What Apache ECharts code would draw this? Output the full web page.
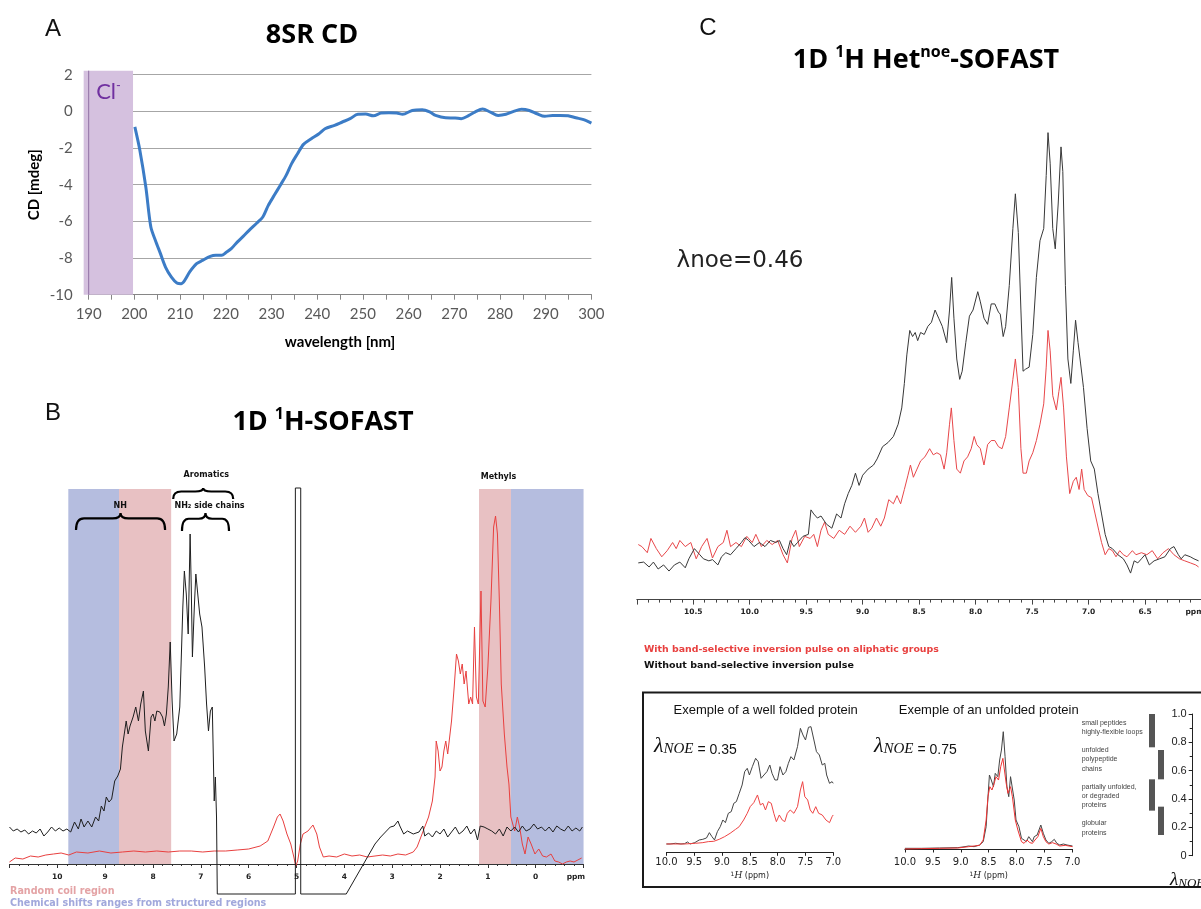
<!DOCTYPE html>
<html><head><meta charset="utf-8">
<script src="https://cdn.jsdelivr.net/npm/echarts@6/dist/echarts.min.js"></script>
<style>html,body{margin:0;padding:0;background:#fff}#c{width:1201px;height:909px}</style>
</head><body><div id="c"></div>
<script>
// ---------- Panel A: CD spectrum ----------
const cdCurve = [[200.1,-0.85],[201.2,-2.13],[202.5,-4.13],[203.6,-6.31],[204.6,-7.04],[205.7,-7.76],[206.8,-8.49],[208.1,-9.04],[209.3,-9.36],[210.2,-9.4],[211.0,-9.22],[212.1,-8.76],[213.6,-8.31],[214.9,-8.13],[216.6,-7.91],[217.8,-7.85],[219.1,-7.85],[220.0,-7.71],[221.2,-7.49],[222.5,-7.13],[223.8,-6.82],[225.1,-6.49],[226.8,-6.09],[228.1,-5.76],[229.3,-5.13],[230.6,-4.58],[231.9,-4.04],[233.2,-3.49],[234.4,-2.85],[235.7,-2.31],[237.0,-1.8],[238.7,-1.49],[240.4,-1.22],[241.7,-0.95],[243.8,-0.76],[245.5,-0.58],[247.2,-0.4],[248.9,-0.16],[250.6,-0.15],[252.3,-0.24],[254.0,-0.09],[255.7,-0.07],[257.4,-0.09],[258.7,-0.16],[260.8,0.05],[263.0,0.09],[264.7,-0.04],[265.9,-0.22],[268.1,-0.35],[270.2,-0.36],[271.5,-0.4],[273.2,-0.22],[274.5,-0.04],[276.2,0.13],[277.9,-0.04],[279.6,-0.22],[281.3,-0.16],[283.0,0],[284.7,0.11],[286.4,0.05],[288.1,-0.13],[289.8,-0.27],[291.5,-0.22],[293.2,-0.22],[294.9,-0.24],[296.6,-0.35],[298.3,-0.45],[300.0,-0.64]];
const clBand = [[188.9,199.7,-10,2.22,190]]; // wavelength range, CD range, axis wavelength

// ---------- Panel B: 1D 1H-SOFAST ----------
const bBlack = [[11.0,37],[10.92,33],[10.84,35],[10.76,32],[10.68,34],[10.6,30],[10.52,33],[10.44,31],[10.36,35],[10.28,28],[10.2,32],[10.12,37],[10.04,33],[9.96,36],[9.88,33],[9.8,35],[9.72,32],[9.64,42],[9.56,35],[9.504,45],[9.44,37],[9.36,43],[9.28,37],[9.2,47],[9.136,43],[9.08,58],[9.024,53],[8.976,67],[8.92,62],[8.864,65],[8.8,83],[8.736,88],[8.68,95],[8.64,117],[8.6,130],[8.56,143],[8.52,130],[8.48,138],[8.416,147],[8.36,157],[8.304,143],[8.256,160],[8.2,173],[8.16,133],[8.096,113],[8.04,147],[8.0,150],[7.96,143],[7.92,153],[7.856,152],[7.8,147],[7.76,138],[7.72,150],[7.68,177],[7.64,222],[7.6,163],[7.56,123],[7.504,130],[7.44,157],[7.376,257],[7.344,293],[7.304,270],[7.264,230],[7.224,330],[7.2,277],[7.176,207],[7.136,257],[7.104,290],[7.064,270],[7.024,250],[6.976,237],[6.92,197],[6.88,160],[6.84,133],[6.8,153],[6.76,157],[6.72,63],[6.696,87],[6.672,47],[6.656,-30],[5.024,-30],[5.024,376],[4.912,376],[4.912,-30],[3.96,-30],[3.84,-20],[3.72,-10],[3.6,0],[3.48,10],[3.36,20],[3.24,27],[3.12,33],[3.04,37],[2.96,38],[2.88,43],[2.84,38],[2.76,30],[2.68,33],[2.56,30],[2.44,32],[2.36,38],[2.32,28],[2.24,31],[2.16,27],[2.08,33],[2.0,30],[1.92,35],[1.84,27],[1.76,32],[1.68,37],[1.6,30],[1.52,33],[1.44,38],[1.36,30],[1.28,35],[1.216,24],[1.16,38],[1.08,37],[1.0,35],[0.92,33],[0.84,30],[0.76,35],[0.68,28],[0.6,37],[0.52,33],[0.44,37],[0.36,32],[0.28,38],[0.2,33],[0.12,35],[0.04,40],[-0.04,35],[-0.12,37],[-0.2,33],[-0.28,37],[-0.36,32],[-0.44,38],[-0.52,35],[-0.6,33],[-0.68,38],[-0.76,33],[-0.84,36],[-0.92,33],[-0.976,37]];
const bRed = [[11.0,2],[10.88,6],[10.72,5],[10.56,8],[10.4,7],[10.24,9],[10.08,10],[9.92,11],[9.76,9],[9.6,12],[9.36,11],[9.12,13],[8.88,11],[8.64,12],[8.4,13],[8.16,12],[7.92,13],[7.68,12],[7.44,13],[7.2,13],[6.96,12],[6.72,13],[6.48,13],[6.24,14],[6.0,15],[5.76,18],[5.6,23],[5.48,37],[5.4,47],[5.344,50],[5.28,43],[5.2,30],[5.12,20],[5.056,7],[5.016,-2],[4.976,3],[4.92,20],[4.864,30],[4.76,33],[4.656,39],[4.576,30],[4.52,17],[4.44,7],[4.32,8],[4.16,7],[4.0,10],[3.84,8],[3.68,9],[3.52,7],[3.36,8],[3.2,9],[3.04,8],[2.88,10],[2.72,9],[2.56,12],[2.48,17],[2.4,27],[2.32,37],[2.24,47],[2.16,63],[2.104,87],[2.08,123],[2.04,113],[2.0,93],[1.96,97],[1.92,113],[1.88,123],[1.84,110],[1.76,143],[1.704,177],[1.656,210],[1.616,203],[1.576,190],[1.536,200],[1.496,180],[1.456,193],[1.4,160],[1.36,167],[1.32,160],[1.28,237],[1.24,167],[1.2,160],[1.144,273],[1.104,163],[1.056,157],[1.0,197],[0.936,263],[0.88,337],[0.84,348],[0.8,330],[0.76,263],[0.72,180],[0.656,130],[0.6,97],[0.56,80],[0.52,47],[0.44,33],[0.384,47],[0.336,37],[0.28,20],[0.224,10],[0.16,27],[0.096,20],[0.016,10],[-0.064,15],[-0.144,8],[-0.224,7],[-0.32,10],[-0.4,3],[-0.48,2],[-0.56,0],[-0.64,2],[-0.72,3],[-0.8,2],[-0.88,4],[-0.96,6]];
const bBands = [[9.77,8.71,0],[8.71,7.62,1],[1.185,0.517,1],[0.517,-1.0,0]]; // ppm from, ppm to, kind (0 structured, 1 random coil)
const bBandTop = 375;
const bBraces = [[7.578,6.323,376,365],[9.609,7.747,351,334],[7.394,6.411,351,333]]; // ppm from, ppm to, tip, ends
const bLabelPos = [[6.885,389],[8.683,358],[6.818,358],[0.778,387]];
const bLabelText = ['Aromatics','NH','NH\u2082 side chains','Methyls'];
const bTickLabels = [10,9,8,7,6,5,4,3,2,1,0,-0.84];

// ---------- Panel C: Het-noe SOFAST ----------
const cBlack = [[10.987,9.0],[10.939,9.2],[10.891,8.0],[10.853,9.2],[10.811,7.5],[10.763,8.5],[10.715,7.0],[10.667,8.5],[10.619,9.2],[10.571,7.8],[10.539,10.0],[10.490,12.5],[10.442,11.0],[10.410,10.0],[10.362,9.5],[10.330,9.8],[10.282,8.5],[10.250,10.5],[10.212,11.5],[10.170,11.0],[10.122,12.5],[10.074,14.0],[10.042,15.2],[10.010,14.5],[9.962,13.0],[9.914,14.0],[9.865,13.0],[9.817,14.5],[9.769,14.0],[9.737,14.5],[9.705,12.5],[9.673,11.0],[9.641,14.5],[9.609,13.0],[9.577,14.0],[9.529,15.5],[9.481,16.0],[9.458,22.0],[9.433,21.0],[9.401,20.0],[9.369,20.5],[9.321,18.5],[9.273,17.5],[9.231,21.0],[9.192,20.0],[9.160,23.5],[9.128,26.0],[9.096,28.0],[9.064,31.0],[9.032,28.0],[9.000,30.5],[8.952,32.0],[8.904,33.0],[8.872,34.5],[8.824,37.5],[8.776,38.5],[8.728,40.0],[8.686,43.0],[8.654,47.0],[8.631,53.0],[8.609,60.0],[8.583,66.0],[8.558,64.5],[8.535,65.5],[8.513,63.5],[8.487,65.5],[8.455,65.0],[8.423,67.0],[8.391,68.0],[8.359,71.0],[8.327,69.0],[8.295,67.0],[8.256,63.0],[8.231,71.0],[8.212,79.0],[8.192,69.0],[8.167,59.0],[8.141,54.0],[8.119,56.0],[8.087,63.0],[8.055,69.5],[8.023,71.0],[7.981,75.5],[7.958,73.0],[7.926,69.0],[7.894,67.5],[7.862,72.5],[7.830,72.5],[7.798,70.5],[7.782,70.0],[7.756,64.5],[7.734,67.0],[7.702,77.0],[7.670,91.0],[7.648,99.5],[7.622,90.0],[7.599,71.0],[7.580,56.0],[7.558,56.5],[7.526,57.0],[7.494,65.0],[7.462,79.0],[7.430,88.0],[7.397,91.0],[7.375,104.0],[7.359,114.5],[7.340,107.0],[7.317,91.0],[7.295,86.0],[7.269,97.0],[7.244,111.0],[7.228,105.0],[7.205,77.0],[7.183,59.0],[7.157,53.0],[7.135,61.0],[7.115,68.5],[7.093,63.0],[7.071,58.0],[7.045,52.0],[7.013,42.0],[6.981,34.0],[6.949,32.0],[6.917,26.0],[6.885,21.0],[6.853,16.0],[6.821,13.0],[6.789,12.5],[6.740,11.0],[6.692,10.0],[6.660,8.5],[6.628,6.5],[6.596,9.5],[6.564,9.0],[6.532,10.0],[6.500,11.0],[6.462,8.5],[6.420,9.5],[6.372,10.0],[6.324,10.5],[6.276,12.5],[6.244,13.0],[6.205,11.0],[6.180,10.0],[6.148,11.0],[6.099,10.5],[6.067,10.0],[6.026,9.5]];
const cRed = [[10.987,13.5],[10.955,13.0],[10.907,11.5],[10.875,15.0],[10.827,12.5],[10.779,10.5],[10.731,12.0],[10.683,14.0],[10.651,12.5],[10.619,14.5],[10.571,13.0],[10.522,14.0],[10.474,10.0],[10.426,13.0],[10.378,15.0],[10.330,10.2],[10.282,13.0],[10.234,14.0],[10.202,17.0],[10.170,13.0],[10.122,14.0],[10.074,13.0],[10.026,15.5],[9.978,14.0],[9.946,16.0],[9.897,13.0],[9.849,14.5],[9.801,13.5],[9.753,14.5],[9.705,11.0],[9.667,9.0],[9.625,15.0],[9.593,17.0],[9.561,13.0],[9.513,15.5],[9.465,15.0],[9.433,16.0],[9.401,13.0],[9.369,17.0],[9.337,19.0],[9.305,16.0],[9.256,15.0],[9.208,17.0],[9.160,16.0],[9.112,18.0],[9.064,16.5],[9.016,18.0],[8.984,20.0],[8.952,16.5],[8.920,17.5],[8.878,20.0],[8.840,18.0],[8.808,20.0],[8.769,24.5],[8.728,23.5],[8.696,25.5],[8.664,23.5],[8.631,27.0],[8.599,30.5],[8.577,33.0],[8.551,30.0],[8.519,32.0],[8.487,34.0],[8.449,35.0],[8.407,37.0],[8.375,35.5],[8.343,36.0],[8.311,35.5],[8.279,32.0],[8.256,36.0],[8.231,43.0],[8.215,47.0],[8.192,39.0],[8.167,32.0],[8.135,31.0],[8.103,34.0],[8.071,35.0],[8.039,37.0],[8.013,40.0],[7.990,38.0],[7.958,37.0],[7.926,33.0],[7.894,38.0],[7.862,39.0],[7.830,39.0],[7.798,37.5],[7.766,37.0],[7.734,40.0],[7.702,47.0],[7.670,54.0],[7.648,59.0],[7.622,52.0],[7.599,37.0],[7.580,31.0],[7.551,31.0],[7.526,34.0],[7.494,36.0],[7.462,39.0],[7.430,43.0],[7.397,48.0],[7.375,57.0],[7.359,66.0],[7.340,61.0],[7.317,50.0],[7.285,46.5],[7.263,51.0],[7.244,54.5],[7.221,47.0],[7.196,35.0],[7.167,26.0],[7.135,29.0],[7.109,30.0],[7.084,27.0],[7.061,32.0],[7.039,27.0],[7.007,25.5],[6.974,25.0],[6.942,21.0],[6.910,17.0],[6.885,14.0],[6.853,11.0],[6.821,12.5],[6.789,12.0],[6.757,10.5],[6.724,12.0],[6.692,11.0],[6.660,10.5],[6.612,12.0],[6.580,11.0],[6.532,11.5],[6.484,11.0],[6.436,12.0],[6.388,10.0],[6.340,11.5],[6.292,12.5],[6.244,11.0],[6.195,10.0],[6.148,9.5],[6.099,9.0],[6.051,8.5],[6.026,8.0]];
const cTickLabels = [10.5,10,9.5,9,8.5,8,7.5,7,6.5,6.06];

// ---------- Inset: example spectra ----------
const foldedBlack = [[10.0,2.5],[9.934,2.5],[9.836,2.7],[9.803,3.1],[9.738,2.5],[9.672,2.6],[9.620,3.1],[9.574,2.5],[9.489,2.9],[9.410,3.7],[9.345,3.9],[9.279,4.3],[9.227,5.9],[9.181,4.7],[9.135,3.7],[9.083,6.2],[9.031,7.7],[8.985,9.7],[8.939,8.9],[8.886,11.7],[8.834,12.2],[8.788,14.7],[8.742,15.2],[8.690,17.7],[8.638,20.2],[8.592,24.2],[8.546,25.2],[8.507,23.2],[8.454,25.7],[8.395,28.2],[8.349,27.2],[8.297,22.2],[8.245,23.2],[8.192,24.2],[8.140,26.2],[8.100,23.7],[8.048,21.7],[8.002,21.7],[7.956,25.7],[7.904,23.2],[7.852,24.2],[7.806,26.7],[7.760,28.7],[7.707,27.7],[7.642,31.7],[7.590,37.2],[7.544,35.2],[7.498,33.7],[7.445,37.5],[7.400,37.7],[7.347,33.7],[7.301,30.2],[7.249,29.2],[7.197,26.2],[7.151,26.7],[7.118,23.2],[7.066,20.7],[7.020,21.2],[7.000,20.7]];
const foldedRed = [[10.0,2.5],[9.869,2.5],[9.672,2.5],[9.476,2.7],[9.345,2.9],[9.247,3.2],[9.148,3.3],[9.050,3.9],[8.952,4.7],[8.854,5.7],[8.755,6.9],[8.690,7.7],[8.611,9.7],[8.546,11.7],[8.493,13.7],[8.428,14.9],[8.362,17.2],[8.310,14.2],[8.264,14.7],[8.218,12.7],[8.166,15.2],[8.114,14.7],[8.068,11.7],[8.022,9.2],[7.969,11.2],[7.917,9.7],[7.871,9.2],[7.825,11.7],[7.773,12.7],[7.707,11.7],[7.642,13.7],[7.590,18.7],[7.550,21.2],[7.511,16.7],[7.459,15.7],[7.413,12.7],[7.367,11.7],[7.314,13.7],[7.262,11.7],[7.197,11.2],[7.131,9.7],[7.066,8.9],[7.020,10.7],[7.000,11.2]];
const unfoldedBlack = [[10.0,0.2],[9.707,0.2],[9.380,0.3],[9.054,0.4],[8.924,0.7],[8.859,0.9],[8.761,0.7],[8.663,1.2],[8.598,2.2],[8.546,6.7],[8.520,13.7],[8.487,22.2],[8.454,20.7],[8.415,18.7],[8.383,22.7],[8.337,21.7],[8.304,26.7],[8.272,29.7],[8.239,35.2],[8.207,27.7],[8.174,18.7],[8.141,15.7],[8.109,21.7],[8.076,21.2],[8.043,14.7],[8.011,8.7],[7.959,6.7],[7.913,3.2],[7.867,2.7],[7.828,2.2],[7.783,3.7],[7.750,3.2],[7.717,2.2],[7.685,3.7],[7.633,4.2],[7.567,7.2],[7.522,4.7],[7.476,2.7],[7.424,1.7],[7.372,2.2],[7.326,2.9],[7.280,1.7],[7.228,1.2],[7.163,1.5],[7.098,1.2],[7.000,0.9]];
const unfoldedRed = [[10.0,0],[9.707,0.1],[9.380,0.2],[9.054,0.3],[8.859,0.7],[8.663,1.1],[8.598,2.7],[8.546,8.7],[8.513,15.7],[8.480,18.7],[8.441,17.7],[8.402,19.7],[8.370,21.7],[8.324,20.7],[8.285,24.7],[8.246,27.2],[8.220,26.7],[8.187,19.7],[8.154,16.7],[8.109,18.7],[8.076,15.7],[8.024,8.7],[7.978,5.7],[7.913,2.2],[7.867,1.7],[7.815,2.7],[7.763,1.9],[7.717,1.7],[7.672,2.7],[7.620,3.7],[7.567,6.2],[7.522,3.7],[7.476,2.2],[7.424,1.5],[7.359,1.9],[7.293,1.5],[7.228,0.9],[7.130,1.1],[7.000,0.7]];
const noeBars = [[0,0.765,1.0],[1,0.539,0.746],[0,0.318,0.539],[1,0.146,0.346]]; // column, low, high
const noeClasses = ['small peptides\nhighly-flexible loops','unfolded\npolypeptide\nchains','partially unfolded,\nor degraded\nproteins','globular\nproteins'];

// ---------- helpers ----------
function txt(text, x, y, o) {
  o = o || {};
  const st = Object.assign({text: text, fill: '#000', fontFamily: 'Liberation Sans', fontSize: 12,
    align: 'center', verticalAlign: 'middle'}, o);
  st.textAlign = st.align; st.textVerticalAlign = st.verticalAlign;
  return {type: 'text', x: x, y: y, silent: true, z: 10, style: st};
}
const titleRich = {
  a: {fontFamily: 'Open Sans', fontWeight: 'bold', fontSize: 27, fill: '#000', color: '#000', lineHeight: 32},
  s: {fontFamily: 'Open Sans', fontWeight: 'bold', fontSize: 16, fill: '#000', color: '#000', lineHeight: 18, verticalAlign: 'top'}
};
function nmrAxis(grid, min, max, interval, o) {
  return Object.assign({gridIndex: grid, type: 'value', min: min, max: max, inverse: true, interval: interval,
    axisLine: {show: true, onZero: false, lineStyle: {color: '#333', width: 1}},
    axisTick: {show: true, length: 4, lineStyle: {color: '#333'}},
    splitLine: {show: false}}, o);
}
function hiddenY(grid, min, max) { return {gridIndex: grid, type: 'value', min: min, max: max, show: false}; }
function lineSeries(xi, data, color, width) {
  return {type: 'line', xAxisIndex: xi, yAxisIndex: xi, data: data, showSymbol: false, symbol: 'none', clip: false,
    lineStyle: {color: color, width: width || 1}, silent: true};
}

const chart = echarts.init(document.getElementById('c'), null, {renderer: 'canvas'});
const option = {
  animation: false,
  backgroundColor: '#fff',
  grid: [
    {left: 88.7, top: 74.7, width: 502.7, height: 220, containLabel: false, outerBoundsMode: 'none'},
    {left: 9.46, top: 489, width: 574.1, height: 375, containLabel: false, outerBoundsMode: 'none'},
    {left: 636.8, top: 110.2, width: 564.7, height: 489.4, containLabel: false, outerBoundsMode: 'none'},
    {left: 666.4, top: 719, width: 166.8, height: 133.3, containLabel: false, outerBoundsMode: 'none'},
    {left: 904.9, top: 715.7, width: 167.6, height: 133.3, containLabel: false, outerBoundsMode: 'none'},
    {left: 1147.5, top: 714, width: 18, height: 141.7, containLabel: false, outerBoundsMode: 'none'},
    {left: 1192.7, top: 714, width: 8, height: 141.7, containLabel: false, outerBoundsMode: 'none'}
  ],
  xAxis: [
    {gridIndex: 0, type: 'value', min: 190, max: 300, interval: 5,
      axisLine: {show: true, onZero: false, lineStyle: {color: '#868686', width: 1}},
      axisTick: {show: true, length: 5, lineStyle: {color: '#868686'}},
      axisLabel: {formatter: v => (v % 10 === 0 ? String(v) : ''), color: '#595959', fontFamily: 'Lato', fontSize: 15, margin: 12},
      splitLine: {show: false},
      name: 'wavelength [nm]', nameLocation: 'middle', nameGap: 40,
      nameTextStyle: {fontFamily: 'Lato', fontWeight: 'bold', fontSize: 15, color: '#000'}},
    nmrAxis(1, -1, 11, 1, {
      minorTick: {show: true, splitNumber: 5, length: 2, lineStyle: {color: '#333'}},
      axisLabel: {show: true, customValues: bTickLabels, formatter: v => (v < -0.3 ? 'ppm' : String(v)),
        fontFamily: 'DejaVu Sans', fontWeight: 'bold', fontSize: 7.5, color: '#222', margin: 9}}),
    nmrAxis(2, 6, 11, 0.5, {
      axisTick: {show: true, length: 5, lineStyle: {color: '#444'}},
      axisLine: {show: true, onZero: false, lineStyle: {color: '#444', width: 1}},
      minorTick: {show: true, splitNumber: 5, length: 3, lineStyle: {color: '#444'}},
      axisLabel: {customValues: cTickLabels, formatter: v => (v < 6.3 ? 'ppm' : v.toFixed(1)),
        fontFamily: 'DejaVu Sans', fontWeight: 'bold', fontSize: 7.5, color: '#222', margin: 8}}),
    nmrAxis(3, 7, 10, 0.5, {
      axisTick: {show: true, length: 3.5, lineStyle: {color: '#222'}},
      axisLine: {show: true, onZero: false, lineStyle: {color: '#222', width: 1}},
      axisLabel: {formatter: v => v.toFixed(1), fontFamily: 'DejaVu Sans', fontSize: 10, color: '#222', margin: 5},
      name: '{s|1}{i|H}{n| (ppm)}', nameLocation: 'middle', nameGap: 19,
      nameTextStyle: {rich: {s: {fontSize: 6, fontFamily: 'DejaVu Sans', verticalAlign: 'top', lineHeight: 8, color: '#222'},
        i: {fontSize: 9, fontFamily: 'DejaVu Serif', fontStyle: 'italic', color: '#222'},
        n: {fontSize: 8, fontFamily: 'DejaVu Sans', color: '#222'}}}}),
    nmrAxis(4, 7, 10, 0.5, {
      axisTick: {show: true, length: 3.5, lineStyle: {color: '#222'}},
      axisLine: {show: true, onZero: false, lineStyle: {color: '#222', width: 1}},
      axisLabel: {formatter: v => v.toFixed(1), fontFamily: 'DejaVu Sans', fontSize: 10, color: '#222', margin: 8},
      name: '{s|1}{i|H}{n| (ppm)}', nameLocation: 'middle', nameGap: 22,
      nameTextStyle: {rich: {s: {fontSize: 6, fontFamily: 'DejaVu Sans', verticalAlign: 'top', lineHeight: 8, color: '#222'},
        i: {fontSize: 9, fontFamily: 'DejaVu Serif', fontStyle: 'italic', color: '#222'},
        n: {fontSize: 8, fontFamily: 'DejaVu Sans', color: '#222'}}}}),
    {gridIndex: 5, type: 'value', min: -0.5, max: 1.5, show: false},
    {gridIndex: 6, type: 'value', min: 0, max: 1, show: false}
  ],
  yAxis: [
    {gridIndex: 0, type: 'value', min: -10, max: 2, interval: 2,
      axisLine: {show: true, onZero: false, lineStyle: {color: '#868686'}},
      axisTick: {show: false},
      axisLabel: {color: '#595959', fontFamily: 'Lato', fontSize: 15, margin: 16},
      splitLine: {show: true, lineStyle: {color: '#a6a6a6', width: 1}},
      name: 'CD [mdeg]', nameLocation: 'middle', nameGap: 47,
      nameTextStyle: {fontFamily: 'Lato', fontWeight: 'bold', fontSize: 15, color: '#000'}},
    hiddenY(1, 0, 375),
    hiddenY(2, 0, 120),
    hiddenY(3, 0, 40),
    hiddenY(4, 0, 40),
    hiddenY(5, 0, 1),
    {gridIndex: 6, type: 'value', min: 0, max: 1, interval: 0.2,
      axisLine: {show: true, onZero: false, lineStyle: {color: '#222'}},
      axisTick: {show: true, length: 4, lineStyle: {color: '#222'}},
      minorTick: {show: true, splitNumber: 2, length: 3, lineStyle: {color: '#222'}},
      axisLabel: {formatter: v => (v === 0 ? '0' : v.toFixed(1)), fontFamily: 'Liberation Sans', fontSize: 11, color: '#222', margin: 6},
      splitLine: {show: false}}
  ],
  series: [
    // A: chloride absorbance region
    {type: 'custom', xAxisIndex: 0, yAxisIndex: 0, data: clBand, silent: true, clip: false,
      renderItem: function (params, api) {
        const p0 = api.coord([api.value(0), api.value(3)]);
        const p1 = api.coord([api.value(1), api.value(2)]);
        const ax = api.coord([api.value(4), api.value(2)]);
        const axTop = api.coord([api.value(4), api.value(3)]);
        return {type: 'group', children: [
          {type: 'rect', shape: {x: p0[0], y: p0[1], width: p1[0] - p0[0], height: p1[1] - p0[1]}, style: {fill: '#d5c1df'}},
          {type: 'line', shape: {x1: ax[0], y1: axTop[1], x2: ax[0], y2: ax[1]}, style: {stroke: '#8f6fa3', lineWidth: 1}},
          {type: 'text', x: p0[0] + 12.5, y: p0[1] + 21, style: {text: '{a|Cl}{s|-}', textAlign: 'left', align: 'left', textVerticalAlign: 'middle', verticalAlign: 'middle',
            rich: {a: {fontFamily: 'Lato', fontSize: 22, fill: '#7030a0', color: '#7030a0', lineHeight: 24},
                   s: {fontFamily: 'Lato', fontSize: 13, fill: '#7030a0', color: '#7030a0', lineHeight: 12, verticalAlign: 'top'}}}}
        ]};
      }},
    {type: 'line', xAxisIndex: 0, yAxisIndex: 0, data: cdCurve, showSymbol: false, symbol: 'none', smooth: 0.3,
      lineStyle: {color: '#3c7cc6', width: 3}, silent: true},
    // B: shaded chemical shift regions
    {type: 'custom', xAxisIndex: 1, yAxisIndex: 1, data: bBands, silent: true,
      renderItem: function (params, api) {
        const a = api.coord([api.value(0), bBandTop]);
        const b = api.coord([api.value(1), 0]);
        const x = Math.min(a[0], b[0]);
        return {type: 'rect', shape: {x: x, y: a[1], width: Math.abs(b[0] - a[0]), height: b[1] - a[1]},
          style: {fill: api.value(2) === 0 ? '#b5bddf' : '#e8c1c3'}};
      }},
    lineSeries(1, bRed, '#e8403f', 1),
    lineSeries(1, bBlack, '#1e1e1e', 1),
    // B: braces
    {type: 'custom', xAxisIndex: 1, yAxisIndex: 1, data: bBraces, silent: true, clip: false,
      renderItem: function (params, api) {
        const a = api.coord([api.value(0), api.value(2)]);
        const b = api.coord([api.value(1), api.value(3)]);
        const x0 = Math.min(a[0], b[0]), x1 = Math.max(a[0], b[0]);
        const yt = a[1], ye = b[1];
        const ym = yt + (ye - yt) * 0.32;
        const xc = (x0 + x1) / 2;
        const r = Math.min(8, (x1 - x0) / 7);
        const d = 'M' + x0 + ' ' + ye + ' Q' + x0 + ' ' + ym + ' ' + (x0 + r) + ' ' + ym +
          ' L' + (xc - r) + ' ' + ym + ' Q' + xc + ' ' + ym + ' ' + xc + ' ' + yt +
          ' Q' + xc + ' ' + ym + ' ' + (xc + r) + ' ' + ym +
          ' L' + (x1 - r) + ' ' + ym + ' Q' + x1 + ' ' + ym + ' ' + x1 + ' ' + ye;
        return {type: 'path', shape: {pathData: d}, style: {stroke: '#000', fill: 'none', lineWidth: 2.2}};
      }},
    // B: region labels
    {type: 'custom', xAxisIndex: 1, yAxisIndex: 1, data: bLabelPos, silent: true, clip: false,
      renderItem: function (params, api) {
        const p = api.coord([api.value(0), api.value(1)]);
        return {type: 'text', x: p[0], y: p[1], style: {text: bLabelText[params.dataIndex], fontFamily: 'DejaVu Sans', fontWeight: 'bold',
          fontSize: 8, fill: '#111', textAlign: 'center', align: 'center', textVerticalAlign: 'middle', verticalAlign: 'middle'}};
      }},
    // C
    lineSeries(2, cRed, '#e8474a', 1),
    lineSeries(2, cBlack, '#383838', 1),
    // insets
    lineSeries(3, foldedBlack, '#444', 1),
    lineSeries(3, foldedRed, '#ee4444', 1),
    lineSeries(4, unfoldedBlack, '#444', 1),
    lineSeries(4, unfoldedRed, '#ee3333', 1),
    // NOE ranges
    {type: 'custom', xAxisIndex: 5, yAxisIndex: 5, data: noeBars, silent: true, clip: false,
      renderItem: function (params, api) {
        const t = api.coord([api.value(0), api.value(2)]);
        const b = api.coord([api.value(0), api.value(1)]);
        return {type: 'rect', shape: {x: t[0] - 3, y: t[1], width: 6, height: b[1] - t[1]}, style: {fill: '#555'}};
      }}
  ],
  graphic: {elements: [
    txt('A', 53, 29, {fontSize: 24, fill: '#111'}),
    txt('B', 53, 413, {fontSize: 24, fill: '#111'}),
    txt('C', 708, 28, {fontSize: 24, fill: '#111'}),
    txt('{a|8SR CD}', 312, 35.5, {rich: titleRich}),
    txt('{a|1D }{s|1}{a|H-SOFAST}', 323, 422.5, {rich: titleRich}),
    txt('{a|1D }{s|1}{a|H Het}{s|noe}{a|-SOFAST}', 926, 60.5, {rich: titleRich}),
    txt('\u03bbnoe=0.46', 740, 261, {fontFamily: 'DejaVu Sans', fontSize: 23, fill: '#222'}),
    txt('With band-selective inversion pulse on aliphatic groups', 644, 650, {align: 'left', fontFamily: 'DejaVu Sans', fontWeight: 'bold', fontSize: 9.4, fill: '#e8403f'}),
    txt('Without band-selective inversion pulse', 644, 666, {align: 'left', fontFamily: 'DejaVu Sans', fontWeight: 'bold', fontSize: 9.5, fill: '#111'}),
    txt('Random coil region', 10, 891, {align: 'left', fontFamily: 'DejaVu Sans', fontWeight: 'bold', fontSize: 9.6, fill: '#e4a3a5'}),
    txt('Chemical shifts ranges from structured regions', 10, 903, {align: 'left', fontFamily: 'DejaVu Sans', fontWeight: 'bold', fontSize: 9.6, fill: '#a1a8dc'}),
    {type: 'rect', silent: true, z: 10, shape: {x: 643, y: 692.5, width: 600, height: 194.5}, style: {fill: 'none', stroke: '#1a1a1a', lineWidth: 2}},
    txt('Exemple of a well folded protein', 765.7, 710, {fontSize: 13, fill: '#111'}),
    txt('Exemple of an unfolded protein', 988.7, 710, {fontSize: 13, fill: '#111'}),
    txt('{l|\u03bb}{n|NOE}{e| = 0.35}', 654, 746, {align: 'left', rich: {
      l: {fontFamily: 'Liberation Serif', fontStyle: 'italic', fontSize: 22, fill: '#111', lineHeight: 22},
      n: {fontFamily: 'Liberation Serif', fontStyle: 'italic', fontSize: 15, fill: '#111', lineHeight: 14, verticalAlign: 'bottom'},
      e: {fontFamily: 'Liberation Sans', fontSize: 14, fill: '#111', lineHeight: 18, verticalAlign: 'bottom'}}}),
    txt('{l|\u03bb}{n|NOE}{e| = 0.75}', 874, 746, {align: 'left', rich: {
      l: {fontFamily: 'Liberation Serif', fontStyle: 'italic', fontSize: 22, fill: '#111', lineHeight: 22},
      n: {fontFamily: 'Liberation Serif', fontStyle: 'italic', fontSize: 15, fill: '#111', lineHeight: 14, verticalAlign: 'bottom'},
      e: {fontFamily: 'Liberation Sans', fontSize: 14, fill: '#111', lineHeight: 18, verticalAlign: 'bottom'}}}),
    txt(noeClasses[0], 1081.7, 727.7, {align: 'left', fontSize: 7, lineHeight: 9, fill: '#444'}),
    txt(noeClasses[1], 1081.7, 759.3, {align: 'left', fontSize: 7, lineHeight: 9.4, fill: '#444'}),
    txt(noeClasses[2], 1081.7, 796, {align: 'left', fontSize: 7, lineHeight: 9.4, fill: '#444'}),
    txt(noeClasses[3], 1081.7, 828.3, {align: 'left', fontSize: 7, lineHeight: 10, fill: '#444'}),
    txt('{l|\u03bb}{n|NOE}', 1170, 880, {align: 'left', rich: {
      l: {fontFamily: 'Liberation Serif', fontStyle: 'italic', fontSize: 19, fill: '#111', lineHeight: 20},
      n: {fontFamily: 'Liberation Serif', fontStyle: 'italic', fontSize: 13, fill: '#111', lineHeight: 12, verticalAlign: 'bottom'}}})
  ]}
};
chart.setOption(option);
</script></body></html>
